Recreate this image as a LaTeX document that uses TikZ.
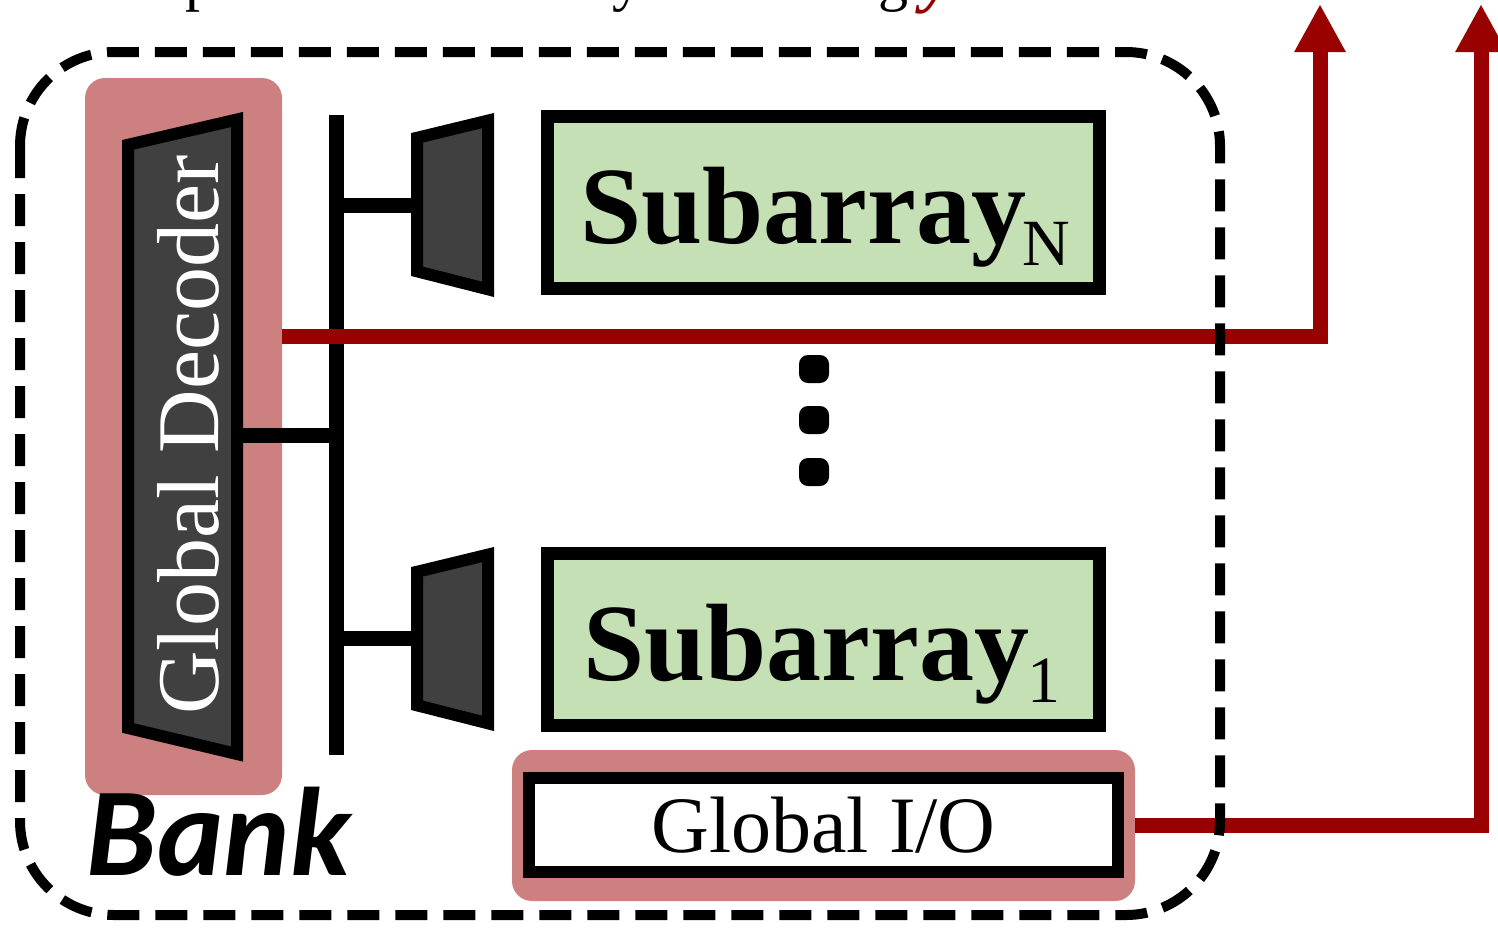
\documentclass[tikz,border=0pt]{standalone}
\usepackage{fontspec}
\setmainfont{Liberation Serif}
\newfontfamily\bankfont{Carlito}
\usetikzlibrary{arrows.meta}
\definecolor{hilite}{HTML}{CC8080}
\definecolor{sigred}{HTML}{990000}
\definecolor{subgreen}{HTML}{C5E0B4}
\definecolor{muxgray}{HTML}{404040}

\begin{document}
\begin{tikzpicture}[x=0.5pt,y=-0.5pt,
  wire/.style={line width=7.5pt, line cap=butt},
  redwire/.style={draw=sigred, line width=7.5pt, line join=miter,
    -{Triangle[length=24pt,width=24pt]}},
  trap/.style={draw=black, fill=muxgray, line width=6pt, line join=miter},
  subbox/.style={draw=black, fill=subgreen, line width=6.5pt, inner sep=0pt,
    minimum width=276pt, minimum height=86pt},
  iobox/.style={draw=black, fill=white, line width=6pt, inner sep=0pt,
    minimum width=294.5pt, minimum height=47pt, font=\fontsize{40}{44}\selectfont},
  hl/.style={fill=hilite, rounded corners=10pt, inner sep=0pt},
  dotmark/.style={fill=black, rounded corners=4.5pt, inner sep=0pt,
    minimum width=15pt, minimum height=14pt},
  bankborder/.style={draw=black, line width=5pt, dash pattern=on 16pt off 8pt,
    rounded corners=47pt},
  sublbl/.style={anchor=base west, inner sep=0pt, font=\bfseries\fontsize{55}{60}\selectfont},
  toptext/.style={anchor=base west, font=\fontsize{30}{32}\selectfont}
]
\useasboundingbox (0,0) rectangle (1498,927);

% caption line above the bank (only its descenders reach the frame)
\node[toptext] (capp) at (178,-1) {p};
\node[toptext] (capy) at (605,-1) {y};
\node[toptext] (capg) at (871,-1) {g};
\node[toptext, text=sigred, font=\bfseries\itshape\fontsize{34}{36}\selectfont] (capr) at (915,-1) {y};

% highlighted blocks
\node[hl, minimum width=98.5pt, minimum height=358.5pt] (dechl) at (183.5,436.5) {};
\node[hl, minimum width=311.5pt, minimum height=75.5pt] (iohl) at (823.5,825.5) {};

% global decoder
\draw[trap] (128,144.8) -- (237,119.5) -- (237,754) -- (128,728) -- cycle;
\coordinate (dec-e) at (243,435);
\node[rotate=90, anchor=base, text=white, font=\fontsize{44}{48}\selectfont]
  (declbl) at (218,435) {Global Decoder};

% global bus and branches
\coordinate (bus-top) at (336,115);
\coordinate (bus-bot) at (336,755);
\draw[wire] (bus-top) -- (bus-bot);
\coordinate (muxN-w) at (411,205);
\coordinate (mux1-w) at (411,638);
\draw[wire] (dec-e) -- (dec-e -| bus-top);
\draw[wire] (muxN-w -| bus-top) -- (muxN-w);
\draw[wire] (mux1-w -| bus-top) -- (mux1-w);

% local decoders
\draw[trap] (417,137.8) -- (488,120.6) -- (488,289.3) -- (417,271.3) -- cycle;
\draw[trap] (417,571.8) -- (488,554.6) -- (488,723.3) -- (417,705.3) -- cycle;

% subarrays
\node[subbox] (subN) at (823.5,202) {};
\node[sublbl] (subNlbl) at (580,243)
  {Subarray\kern-2pt\raisebox{-11pt}{\mdseries\fontsize{33}{33}\selectfont N}};
\node[subbox] (sub1) at (823.5,639) {};
\node[sublbl] (sub1lbl) at (583,680)
  {Subarray\kern-1pt\raisebox{-11pt}{\mdseries\fontsize{33}{33}\selectfont 1}};

% vertical ellipsis
\node[dotmark] (dotA) at (814,369) {};
\node[dotmark] (dotB) at (814,420) {};
\node[dotmark] (dotC) at (814,472) {};

% global I/O
\node[iobox] (gio) at (823.5,825) {Global I/O};

% outgoing signals
\coordinate (outA) at (1320,4);
\coordinate (outB) at (1481,4);
\draw[redwire] (dechl.east |- 0,336) -| (outA);
\draw[redwire] (iohl.east) -| (outB);

% bank boundary
\draw[bankborder] (20,52) rectangle (1220,915);
\node[anchor=base west, inner sep=0pt, font=\bankfont\bfseries\itshape\fontsize{63}{66}\selectfont]
  (banklbl) at (86,875) {Bank};
\end{tikzpicture}
\end{document}
